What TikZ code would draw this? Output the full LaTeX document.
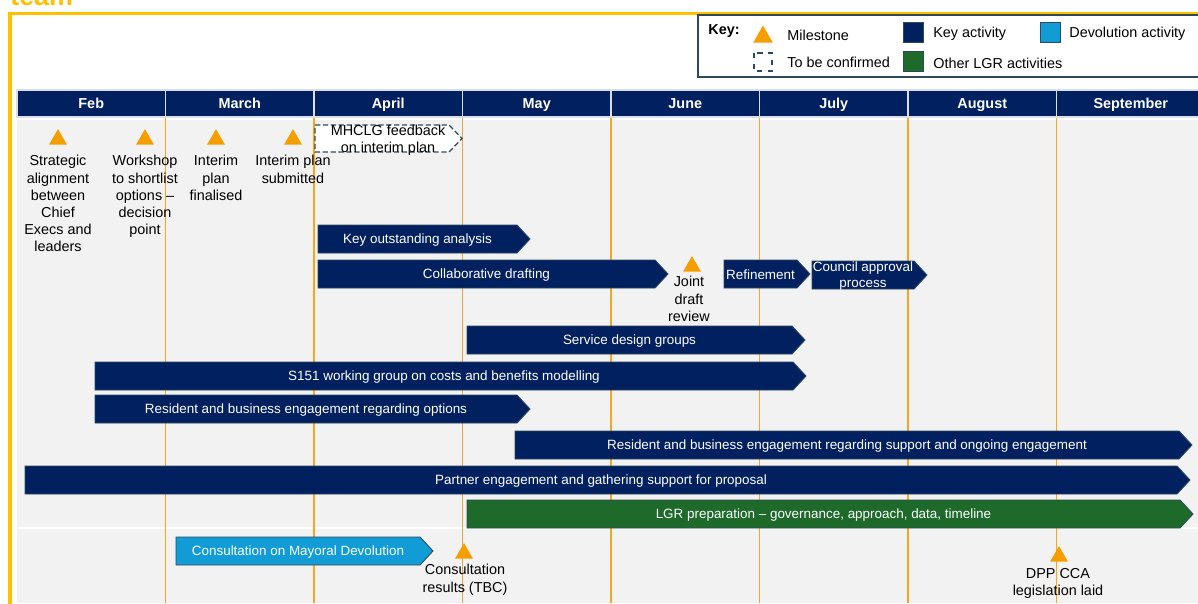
\documentclass[tikz,border=0pt]{standalone}
\usepackage{fontspec}
\setmainfont{Liberation Sans}
\usetikzlibrary{shapes.geometric}
\definecolor{navy}{HTML}{002060}
\definecolor{gold}{HTML}{FFC000}
\definecolor{mstone}{HTML}{F59E00}
\definecolor{monthline}{HTML}{F5A623}
\definecolor{lgrgreen}{HTML}{1D6A2A}
\definecolor{devblue}{HTML}{119CD6}
\definecolor{edge}{HTML}{2E4A5A}
\definecolor{panel}{HTML}{F2F2F2}
% activity bar: style, name, left x, tip x, top y, text
\newcommand{\actbar}[6]{%
  \draw[#1] (#3,#5) -- ({#4-13},#5) -- (#4,{#5+14}) -- ({#4-13},{#5+28}) -- (#3,{#5+28}) -- cycle;
  \node[bartext] (#2) at ({(#3+#4-13)/2},{#5+15}) {#6};}
\begin{document}
\begin{tikzpicture}[x=0.02cm,y=-0.02cm,%
        font=\fontsize{8.2}{9.8}\selectfont,
        keybar/.style={fill=navy,draw=edge,line width=0.5pt},
        greenbar/.style={fill=lgrgreen,draw=edge,line width=0.5pt},
        bluebar/.style={fill=devblue,draw=edge,line width=0.5pt},
        tbcbar/.style={fill=white,draw=edge,dash pattern=on 3pt off 1.5pt,line width=0.7pt},
        bartext/.style={text=white,inner sep=0pt,align=center,font=\fontsize{7.65}{8.6}\selectfont},
        mstone/.style={shape=regular polygon,regular polygon sides=3,fill=mstone,inner sep=0pt,minimum size=11.8pt},
        mtext/.style={align=center,inner sep=0pt,anchor=north},
        month/.style={fill=navy,draw=white!85!navy,line width=0.6pt,text=white,font=\fontsize{8.2}{9.7}\selectfont\bfseries,minimum width=148.5*0.02cm,minimum height=27*0.02cm,inner sep=0pt}
    ]
    \useasboundingbox (0,0) rectangle (1198,603);
    \clip (0,0) rectangle (1198,603);
    % title and frame
    \node[anchor=base west,text=gold,font=\fontsize{15.3}{18}\selectfont\bfseries,inner sep=0pt] (title) at (10,5.5) {team};
    \draw[gold,line width=1.8pt] (10,610) -- (10,13.5) -- (1205,13.5);
    % key
    \draw[edge,fill=white,line width=0.6pt] (698,15) rectangle (1210,77);
    \node[anchor=west,font=\fontsize{8.2}{9.7}\selectfont\bfseries,inner sep=0pt] (keylbl) at (708,31) {Key:};
    \node[mstone,minimum size=13pt] (keyms) at (763,37) {};
    \node[anchor=west,inner sep=0pt] (keymstxt) at (787,35) {Milestone};
    \draw[edge,dashed,line width=0.8pt] (754,53) rectangle (772,71);
    \node[anchor=west,inner sep=0pt] (keytbc) at (787,62) {To be confirmed};
    \draw[edge,fill=navy] (903,22) rectangle (923,42);
    \node[anchor=west,inner sep=0pt] (keyact) at (933,34) {Key activity};
    \draw[edge,fill=lgrgreen] (903,51) rectangle (923,71);
    \node[anchor=west,inner sep=0pt] (keylgr) at (933,63) {Other LGR activities};
    \draw[edge,fill=devblue] (1040,22) rectangle (1060,42);
    \node[anchor=west,inner sep=0pt] (keydev) at (1069,34) {Devolution activity};
    % panel and months
    \fill[panel] (17,120) rectangle (1198,603);
    \draw[white,line width=1pt] (17,528) -- (1198,528);
    \foreach \m [count=\i from 0] in {Feb,March,April,May,June,July,August,September} {
        \node[month,text depth=0pt] (m\i) at ({17+148.5*\i+74.25},103.5) {\m};
    }
    \foreach \i in {1,...,7} {
        \draw[monthline,line width=0.9pt] ({17+148.5*\i},118) -- ({17+148.5*\i},603);
    }
    % milestones
    \node[mstone] (ms1) at (58,139.5) {};
    \node[mtext] (ms1t) at (58,155) {Strategic\\alignment\\between\\Chief\\Execs and\\leaders};
    \node[mstone] (ms2) at (145,139.5) {};
    \node[mtext] (ms2t) at (145,155) {Workshop\\to shortlist\\options –\\decision\\point};
    \node[mstone] (ms3) at (216,139.5) {};
    \node[mtext] (ms3t) at (216,155) {Interim\\plan\\finalised};
    \node[mstone] (ms4) at (293,139.5) {};
    \node[mtext] (ms4t) at (293,155) {Interim plan\\submitted};
    \node[mstone] (ms5) at (692,266.5) {};
    \node[mtext] (ms5t) at (689,276) {Joint\\draft\\review};
    \node[mstone] (ms6) at (464,553.5) {};
    \node[mtext] (ms6t) at (465,564) {Consultation\\results (TBC)};
    \node[mstone] (ms7) at (1059,556.5) {};
    \node[mtext] (ms7t) at (1058,568) {DPP CCA\\legislation laid};
    % activities
    \draw[tbcbar] (315,125) -- (449,125) -- (462,138.5) -- (449,152) -- (315,152) -- cycle;
    \node[align=center,inner sep=0pt] (mhclg) at (388,140.5) {MHCLG feedback\\on interim plan};
    \actbar{keybar}{koa}{318}{530}{225}{Key outstanding analysis}
    \actbar{keybar}{collab}{318}{668}{260}{Collaborative drafting}
    \actbar{keybar}{refine}{724}{810}{260}{Refinement}
    \actbar{keybar}{council}{812}{927}{261}{Council approval\\process}
    \actbar{keybar}{service}{467}{805}{326}{Service design groups}
    \actbar{keybar}{sone}{95}{806}{362}{S151 working group on costs and benefits modelling}
    \actbar{keybar}{resopt}{95}{530}{395}{Resident and business engagement regarding options}
    \actbar{keybar}{ressup}{515}{1192}{431}{Resident and business engagement regarding support and ongoing engagement}
    \actbar{keybar}{partner}{25}{1190}{466}{Partner engagement and gathering support for proposal}
    \actbar{greenbar}{lgr}{467}{1193}{500}{LGR preparation – governance, approach, data, timeline}
    \actbar{bluebar}{consult}{176}{433}{537}{Consultation on Mayoral Devolution}
\end{tikzpicture}
\end{document}
